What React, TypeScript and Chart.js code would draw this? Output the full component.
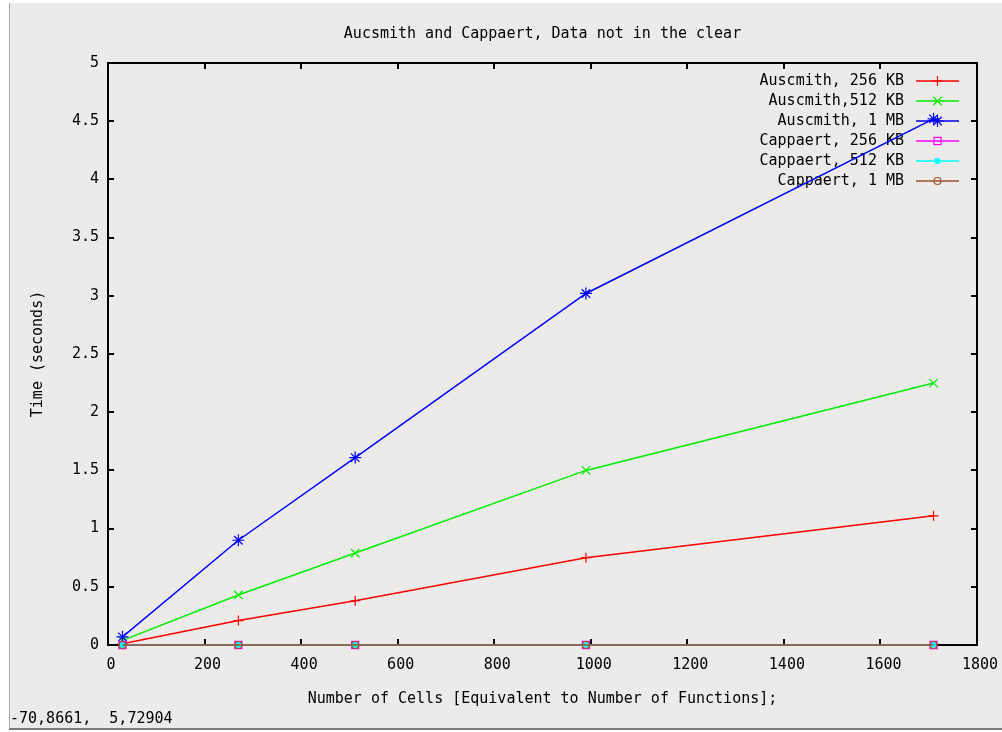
import React, { useEffect, useRef } from "react";
import { Chart, registerables } from "chart.js";
import { drawPoint } from "chart.js/helpers";

Chart.register(...registerables);

const titleText = "Aucsmith and Cappaert, Data not in the clear";
const xTitle = "Number of Cells [Equivalent to Number of Functions];";
const yTitle = "Time (seconds)";
const statusText = "-70,8661,  5,72904";

const cells = [30, 270, 512, 990, 1710];
const auscmith256 = [0.01, 0.21, 0.38, 0.75, 1.11];
const auscmith512 = [0.04, 0.43, 0.79, 1.5, 2.25];
const auscmith1M = [0.07, 0.9, 1.61, 3.02, 4.52];
const cappaert256 = [0, 0, 0, 0, 0];
const cappaert512 = [0, 0, 0, 0, 0];
const cappaert1M = [0, 0, 0, 0, 0];

const xTicks = [0, 200, 400, 600, 800, 1000, 1200, 1400, 1600, 1800];
const yTicks = [0, 0.5, 1, 1.5, 2, 2.5, 3, 3.5, 4, 4.5, 5];
const yTickLabels = ["0", "0.5", "1", "1.5", "2", "2.5", "3", "3.5", "4", "4.5", "5"];

const seriesNames = [
  "Auscmith, 256 KB",
  "Auscmith,512 KB",
  "Auscmith, 1 MB",
  "Cappaert, 256 KB",
  "Cappaert, 512 KB",
  "Cappaert, 1 MB",
];
const seriesValues = [auscmith256, auscmith512, auscmith1M, cappaert256, cappaert512, cappaert1M];
const seriesColors = ["#ff0000", "#00ee00", "#0000ff", "#ff00ff", "#00ffff", "#a0522d"];
const seriesStyles: any[] = ["cross", "crossRot", "star", "rect", "rect", "circle"];
const seriesRadius = [5, 6, 6, 5, 3, 3.5];
const seriesFill = ["#ff0000", "#00ee00", "#0000ff", "rgba(0,0,0,0)", "#00ffff", "rgba(0,0,0,0)"];

const FONT = '15px "DejaVu Sans Mono", monospace';

const framePlugin = {
  id: "gnuframe",
  beforeDraw(chart: any) {
    const ctx = chart.ctx;
    const W = chart.width;
    const H = chart.height;
    ctx.save();
    ctx.fillStyle = "#ffffff";
    ctx.fillRect(0, 0, W, H);
    ctx.fillStyle = "#ecebe9";
    ctx.fillRect(10, 3, W - 10, 725);
    ctx.fillStyle = "#a8a8a8";
    ctx.fillRect(9, 3, 1, 725);
    ctx.fillStyle = "#7a7a7a";
    ctx.fillRect(9, 728, W - 9, 2);
    ctx.restore();
  },
  beforeDatasetsDraw(chart: any) {
    const ctx = chart.ctx;
    const a = chart.chartArea;
    const xs = chart.scales.x;
    const ys = chart.scales.y;
    ctx.save();
    // border
    ctx.strokeStyle = "#000000";
    ctx.lineWidth = 2;
    ctx.strokeRect(a.left, a.top, a.right - a.left, a.bottom - a.top);
    // ticks
    const tl = 6;
    ctx.beginPath();
    xTicks.forEach((v) => {
      const px = Math.round(xs.getPixelForValue(v));
      ctx.moveTo(px, a.bottom);
      ctx.lineTo(px, a.bottom - tl);
      ctx.moveTo(px, a.top);
      ctx.lineTo(px, a.top + tl);
    });
    yTicks.forEach((v) => {
      const py = Math.round(ys.getPixelForValue(v));
      ctx.moveTo(a.left, py);
      ctx.lineTo(a.left + tl, py);
      ctx.moveTo(a.right, py);
      ctx.lineTo(a.right - tl, py);
    });
    ctx.stroke();
    // tick labels
    ctx.fillStyle = "#000000";
    ctx.font = FONT;
    ctx.textAlign = "center";
    ctx.textBaseline = "middle";
    xTicks.forEach((v) => {
      ctx.fillText(String(v), xs.getPixelForValue(v) + 3, 665);
    });
    ctx.textAlign = "right";
    yTicks.forEach((v, i) => {
      ctx.fillText(yTickLabels[i], 99, ys.getPixelForValue(v));
    });
    // titles
    ctx.textAlign = "center";
    ctx.fillText(titleText, (a.left + a.right) / 2, 34);
    ctx.fillText(xTitle, (a.left + a.right) / 2, 699);
    ctx.save();
    ctx.translate(38, (a.top + a.bottom) / 2);
    ctx.rotate(-Math.PI / 2);
    ctx.fillText(yTitle, 0, 0);
    ctx.restore();
    // status
    ctx.textAlign = "left";
    ctx.fillText(statusText, 10, 719);
    // legend
    const ds = chart.data.datasets;
    ds.forEach((d: any, i: number) => {
      const y = 81 + i * 20;
      ctx.fillStyle = "#000000";
      ctx.textAlign = "right";
      ctx.fillText(d.label, 904, y);
      ctx.strokeStyle = d.borderColor;
      ctx.lineWidth = 1.5;
      ctx.beginPath();
      ctx.moveTo(916, y);
      ctx.lineTo(959, y);
      ctx.stroke();
      ctx.fillStyle = d.pointBackgroundColor;
      ctx.strokeStyle = d.borderColor;
      ctx.lineWidth = 1.2;
      drawPoint(ctx, { pointStyle: d.pointStyle, radius: d.pointRadius, rotation: 0, borderWidth: 1.2 }, 937.5, y);
    });
    ctx.restore();
  },
};

export default function App() {
  const ref = useRef<HTMLCanvasElement | null>(null);
  useEffect(() => {
    if (!ref.current) return;
    const chart = new Chart(ref.current, {
      type: "line",
      data: {
        datasets: seriesNames.map((name, i) => ({
          label: name,
          data: cells.map((c, j) => ({ x: c, y: seriesValues[i][j] })),
          borderColor: seriesColors[i],
          backgroundColor: seriesColors[i],
          pointBackgroundColor: seriesFill[i],
          pointBorderColor: seriesColors[i],
          pointStyle: seriesStyles[i],
          pointRadius: seriesRadius[i],
          pointBorderWidth: 1.2,
          borderWidth: 1.5,
          tension: 0,
          fill: false,
          clip: false,
          order: 6 - i,
        })),
      },
      options: {
        animation: false,
        responsive: false,
        maintainAspectRatio: false,
        layout: { padding: { left: 108, top: 63, right: 25, bottom: 87 } },
        plugins: {
          legend: { display: false },
          title: { display: false },
          tooltip: { enabled: false },
        },
        events: [],
        scales: {
          x: { type: "linear", min: 0, max: 1800, display: false },
          y: { type: "linear", min: 0, max: 5, display: false },
        },
      } as any,
      plugins: [framePlugin],
    });
    return () => chart.destroy();
  }, []);
  return (
    <div style={{ position: "fixed", left: 0, top: 0, width: 1002, height: 732 }}>
      <canvas ref={ref} width={1002} height={732} style={{ width: 1002, height: 732, display: "block" }} />
    </div>
  );
}
